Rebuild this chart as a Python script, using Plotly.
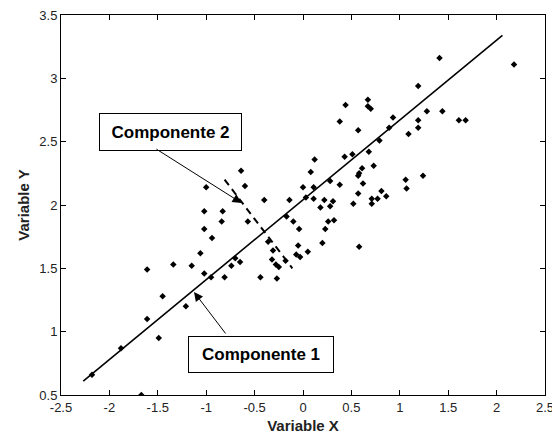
import plotly.graph_objects as go

# Observed sample (standardised X vs Y)
x_vals = [-2.18, -1.88, -1.67, -1.61, -1.61, -1.49, -1.45, -1.34, -1.21, -1.15,
          -1.06, -1.02, -1.02, -1.02, -1.00, -0.95, -0.94, -0.84, -0.83, -0.81,
          -0.74, -0.70, -0.65, -0.64, -0.60, -0.57, -0.44, -0.40, -0.36, -0.31,
          -0.32, -0.28, -0.25, -0.27, -0.17, -0.14, -0.10, -0.18, -0.07, -0.05,
          -0.04, 0.00, 0.03, 0.05, -0.03, 0.08, 0.11, 0.11, 0.12, 0.18,
          0.22, 0.20, 0.23, 0.26, 0.32, 0.28, 0.28, 0.31, 0.38, 0.38,
          0.43, 0.44, 0.51, 0.52, 0.57, 0.57, 0.57, 0.58, 0.58, 0.61,
          0.62, 0.67, 0.67, 0.70, 0.68, 0.71, 0.71, 0.73, 0.77, 0.79,
          0.81, 0.86, 0.89, 0.93, 1.06, 1.07, 1.09, 1.19, 1.19, 1.19,
          1.24, 1.28, 1.41, 1.44, 1.61, 1.68, 2.18]
y_vals = [0.66, 0.87, 0.50, 1.49, 1.10, 0.95, 1.28, 1.53, 1.20, 1.52,
          1.62, 1.95, 1.81, 1.46, 2.14, 1.43, 1.74, 1.87, 1.95, 1.43,
          1.52, 1.58, 1.55, 2.27, 2.15, 1.87, 1.43, 2.04, 1.71, 1.64,
          1.57, 1.53, 1.51, 1.42, 1.91, 2.04, 1.87, 1.56, 1.61, 1.68,
          1.81, 2.14, 2.06, 1.63, 1.59, 2.26, 2.14, 2.05, 2.36, 1.98,
          2.04, 1.70, 1.81, 1.87, 1.88, 2.19, 1.99, 2.03, 2.66, 2.16,
          2.38, 2.79, 2.40, 2.01, 2.59, 2.09, 2.23, 2.25, 1.67, 2.29,
          2.17, 2.83, 2.78, 2.76, 2.42, 2.05, 2.01, 2.31, 2.05, 2.51,
          2.11, 2.07, 2.61, 2.69, 2.20, 2.13, 2.56, 2.94, 2.67, 2.61,
          2.23, 2.74, 3.16, 2.74, 2.67, 2.67, 3.11]

# First principal direction (full line) and second one (dashed segment)
pc1_x = [-2.27, 2.06]
pc1_y = [0.61, 3.34]
pc2_x = [-0.81, -0.11]
pc2_y = [2.20, 1.50]

x_ticks = [-2.5, -2, -1.5, -1, -0.5, 0, 0.5, 1, 1.5, 2, 2.5]
y_ticks = [0.5, 1, 1.5, 2, 2.5, 3, 3.5]

label_pc1 = "Componente 1"
label_pc2 = "Componente 2"

fig = go.Figure()
fig.add_trace(go.Scatter(
    x=x_vals, y=y_vals, mode="markers",
    marker=dict(symbol="diamond", size=5, color="black"),
    showlegend=False, hoverinfo="skip"))
fig.add_trace(go.Scatter(
    x=pc1_x, y=pc1_y, mode="lines",
    line=dict(color="black", width=1.6),
    showlegend=False, hoverinfo="skip"))
fig.add_trace(go.Scatter(
    x=pc2_x, y=pc2_y, mode="lines",
    line=dict(color="black", width=2, dash="7px,5px"),
    showlegend=False, hoverinfo="skip"))

font_lbl = dict(family="Liberation Sans, Arial, sans-serif", size=17, color="black")

annotations = [
    # text boxes
    dict(x=-1.364, y=2.578, xref="x", yref="y", text="<b>%s</b>" % label_pc2,
         showarrow=False, font=font_lbl, bgcolor="white",
         bordercolor="black", borderwidth=1, borderpad=0, width=141, height=36),
    dict(x=-0.431, y=0.819, xref="x", yref="y", text="<b>%s</b>" % label_pc1,
         showarrow=False, font=font_lbl, bgcolor="white",
         bordercolor="black", borderwidth=1, borderpad=0, width=144, height=35),
    # pointer arrows
    dict(x=-0.635, y=2.016, ax=-1.529, ay=2.448, xref="x", yref="y",
         axref="x", ayref="y", text="", showarrow=True,
         arrowhead=2, arrowsize=1.8, arrowwidth=1, arrowcolor="black"),
    dict(x=-1.126, y=1.313, ax=-0.788, ay=0.974, xref="x", yref="y",
         axref="x", ayref="y", text="", showarrow=True,
         arrowhead=2, arrowsize=1.8, arrowwidth=1, arrowcolor="black"),
]

axis_common = dict(
    showgrid=False, zeroline=False, showline=True, linecolor="black",
    linewidth=1, mirror="allticks", ticks="inside", ticklen=5,
    tickcolor="black", ticklabeloverflow="allow", automargin=False,
    tickfont=dict(family="Liberation Sans, Arial, sans-serif", size=13, color="#222"),
)

fig.update_layout(
    width=552, height=437,
    margin=dict(l=61, r=7, t=15, b=42, autoexpand=False),
    paper_bgcolor="white", plot_bgcolor="white",
    annotations=annotations,
    xaxis=dict(range=[-2.5, 2.5], tickvals=x_ticks,
               ticktext=[("%g" % v) for v in x_ticks],
               title=dict(text="<b>Variable X</b>", standoff=6,
                          font=dict(family="Liberation Sans, Arial, sans-serif",
                                    size=15, color="#222")),
               **axis_common),
    yaxis=dict(range=[0.5, 3.5], tickvals=y_ticks,
               ticktext=[("%g" % v) for v in y_ticks],
               title=dict(text="<b>Variable Y</b>", standoff=6,
                          font=dict(family="Liberation Sans, Arial, sans-serif",
                                    size=15, color="#222")),
               **axis_common),
)

fig.write_html("out.html")
